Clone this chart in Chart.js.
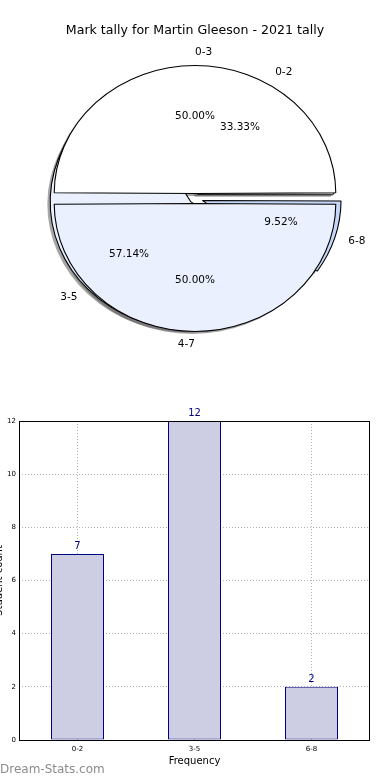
<!DOCTYPE html>
<html lang="en">

<head>
    <meta charset="UTF-8">
    <title>Mark tally for Martin Gleeson - 2021 tally</title>
    <style>
        body { margin: 0; width: 390px; height: 780px; position: relative; overflow: hidden; background: #fff; font-family: "DejaVu Sans", sans-serif; }
        #title { position: absolute; top: 22px; left: 0; width: 390px; text-align: center; font-size: 12.6px; color: #000; z-index: 5; }
        .pie { position: absolute; left: 0; top: 0; }
        #barChart { position: absolute; left: 0; top: 400px; }
        #mark { position: absolute; left: 0; top: 762px; font-size: 12px; color: #8c8c8c; z-index: 5; }
    </style>
</head>

<body>
    <div id="title">Mark tally for Martin Gleeson - 2021 tally</div>
    <canvas id="pieBack" class="pie" width="390" height="397"></canvas>
    <canvas id="pieFront" class="pie" width="390" height="397"></canvas>
    <canvas id="barChart" width="390" height="380"></canvas>
    <div id="mark">Dream-Stats.com</div>

    <script src="https://cdn.jsdelivr.net/npm/chart.js"></script>
    <script>
        // back pie (mark ranges of the tally)
        let backLabels = ['0-2', '3-5', '6-8'];
        let backValues = [7, 12, 2];
        let backColors = ['#ffffff', '#eaf0fd', '#c6d6f6'];
        let backOffsets = [20, 20, 28];
        // front pie (two halves)
        let frontLabels = ['0-3', '4-7'];
        let frontValues = [50, 50];
        let frontColors = ['#ffffff', '#eaf0fd'];
        let frontOffsets = [20, 20];
        // bar chart
        let barLabels = ['0-2', '3-5', '6-8'];
        let barCounts = [7, 12, 2];
        let yTicks = [0, 2, 4, 6, 8, 10, 12];

        const SX = 1.1;     // pies are drawn a bit wider than tall
        const PIE_R = 128;  // visible radius
        const FONT = '"DejaVu Sans", sans-serif';

        // matplotlib draws counter-clockwise from 3 o'clock, chart.js clockwise -> reverse
        const rev = a => a.slice().reverse();

        function arcGeom(el) {
            let p = el.getProps(['x', 'y', 'startAngle', 'endAngle', 'outerRadius', 'circumference']);
            let t = (el.options.offset || 0) / 4;
            let fix = 1 - Math.sin(Math.min(Math.PI, p.circumference || 0));
            return { x: p.x, y: p.y, s: p.startAngle, e: p.endAngle, mid: (p.startAngle + p.endAngle) / 2, t: t, r: p.outerRadius + t * fix };
        }

        function drawShadows(ctx, chart) {
            if (!chart) return;
            chart.getDatasetMeta(0).data.forEach(el => {
                let g = arcGeom(el);
                let cx = g.x + Math.cos(g.mid) * g.t - 0.02 * PIE_R;
                let cy = g.y + Math.sin(g.mid) * g.t + 0.02 * PIE_R;
                ctx.beginPath();
                ctx.moveTo(cx, cy);
                ctx.arc(cx, cy, g.r, g.s, g.e);
                ctx.closePath();
                ctx.fillStyle = 'rgba(77,77,77,0.5)';
                ctx.fill();
            });
        }

        function drawLabels(ctx, chart) {
            if (!chart) return;
            let vals = chart.data.datasets[0].data;
            let total = vals.reduce((a, b) => a + b, 0);
            ctx.save();
            ctx.font = '10.5px ' + FONT;
            ctx.fillStyle = '#000';
            ctx.textBaseline = 'middle';
            chart.getDatasetMeta(0).data.forEach((el, i) => {
                let g = arcGeom(el);
                let c = Math.cos(g.mid), s = Math.sin(g.mid);
                // labels follow the nominal 5px explode, not the wider 6-8 one
                let ox = g.x + c * 5 * SX, oy = g.y + s * 5;
                let left = Math.abs(c) < 1e-6 ? s < 0 : c > 0;
                ctx.textAlign = left ? 'left' : 'right';
                ctx.fillText(chart.data.labels[i], ox + c * 1.1 * PIE_R * SX, oy + s * 1.1 * PIE_R);
                ctx.textAlign = 'center';
                ctx.fillText((vals[i] / total * 100).toFixed(2) + '%', ox + c * 0.6 * PIE_R * SX, oy + s * 0.6 * PIE_R);
            });
            ctx.restore();
        }

        const pieStretch = {
            id: 'pieStretch',
            beforeDatasetsDraw(chart) {
                let ctx = chart.ctx, a = chart.chartArea;
                let cx = (a.left + a.right) / 2, cy = (a.top + a.bottom) / 2;
                ctx.save();
                ctx.translate(cx, cy);
                ctx.scale(SX, 1);
                ctx.translate(-cx, -cy);
                // all shadows sit below every wedge
                if (chart.canvas.id === 'pieBack') {
                    drawShadows(ctx, chart);
                    drawShadows(ctx, Chart.getChart('pieFront'));
                }
            },
            afterDatasetsDraw(chart) {
                chart.ctx.restore();
                if (chart.canvas.id === 'pieFront') {
                    drawLabels(chart.ctx, Chart.getChart('pieBack'));
                    drawLabels(chart.ctx, chart);
                }
            }
        };

        function pieConfig(labels, values, colors, offsets) {
            return {
                type: 'pie',
                data: {
                    labels: rev(labels),
                    datasets: [{
                        data: rev(values),
                        backgroundColor: rev(colors),
                        borderColor: '#000',
                        borderWidth: 1,
                        offset: rev(offsets),
                        hoverOffset: 0,
                        radius: PIE_R - 5,
                        rotation: 90
                    }]
                },
                options: {
                    responsive: false,
                    animation: false,
                    events: [],
                    radius: PIE_R - 5,
                    rotation: 90,
                    layout: { padding: 0 },
                    plugins: { legend: { display: false }, tooltip: { enabled: false } }
                },
                plugins: [pieStretch]
            };
        }

        let frontChart = new Chart(document.getElementById('pieFront'), pieConfig(frontLabels, frontValues, frontColors, frontOffsets));
        let backChart = new Chart(document.getElementById('pieBack'), pieConfig(backLabels, backValues, backColors, backOffsets));
        frontChart.draw();

        // ---- bar chart ----
        const barDeco = {
            id: 'barDeco',
            afterDatasetsDraw(chart) {
                let ctx = chart.ctx;
                ctx.save();
                ctx.font = '10px ' + FONT;
                ctx.fillStyle = '#000080';
                ctx.textAlign = 'center';
                ctx.textBaseline = 'alphabetic';
                chart.getDatasetMeta(0).data.forEach((bar, i) => {
                    ctx.fillText(String(chart.data.datasets[0].data[i]), bar.x, bar.y - 5);
                });
                ctx.restore();
            },
            afterDraw(chart) {
                let ctx = chart.ctx, a = chart.chartArea;
                ctx.save();
                ctx.strokeStyle = '#000';
                ctx.lineWidth = 1;
                ctx.strokeRect(a.left + 0.5, a.top + 0.5, a.right - a.left - 1, a.bottom - a.top);
                ctx.restore();
            }
        };

        new Chart(document.getElementById('barChart'), {
            type: 'bar',
            data: {
                labels: barLabels,
                datasets: [{
                    data: barCounts,
                    backgroundColor: '#cdcde4',
                    borderColor: '#000080',
                    borderWidth: 1,
                    borderSkipped: false,
                    barPercentage: 53 / 117,
                    categoryPercentage: 1
                }]
            },
            options: {
                responsive: false,
                animation: false,
                events: [],
                layout: { padding: { top: 21, right: 20, left: 0, bottom: 0 } },
                plugins: { legend: { display: false }, tooltip: { enabled: false } },
                scales: {
                    x: {
                        grid: { offset: false, color: '#b4b4b4', drawTicks: false },
                        border: { display: false, dash: [1, 2] },
                        ticks: { color: '#000', font: { family: FONT, size: 7 }, padding: 5 },
                        title: { display: true, text: 'Frequency', color: '#000', font: { family: FONT, size: 10 }, padding: { top: 0, bottom: 13 } },
                        afterFit: s => { s.height = 40; }
                    },
                    y: {
                        min: yTicks[0],
                        max: yTicks[yTicks.length - 1],
                        afterBuildTicks: s => { s.ticks = yTicks.map(v => ({ value: v })); },
                        grid: { color: '#b4b4b4', drawTicks: false },
                        border: { display: false, dash: [1, 2] },
                        ticks: { color: '#000', font: { family: FONT, size: 7 }, padding: 3 },
                        title: { display: true, text: 'Student count', color: '#000', font: { family: FONT, size: 10 }, padding: { top: -7, bottom: 0 } },
                        afterFit: s => { s.width = 19; }
                    }
                }
            },
            plugins: [barDeco]
        });
    </script>
</body>

</html>
